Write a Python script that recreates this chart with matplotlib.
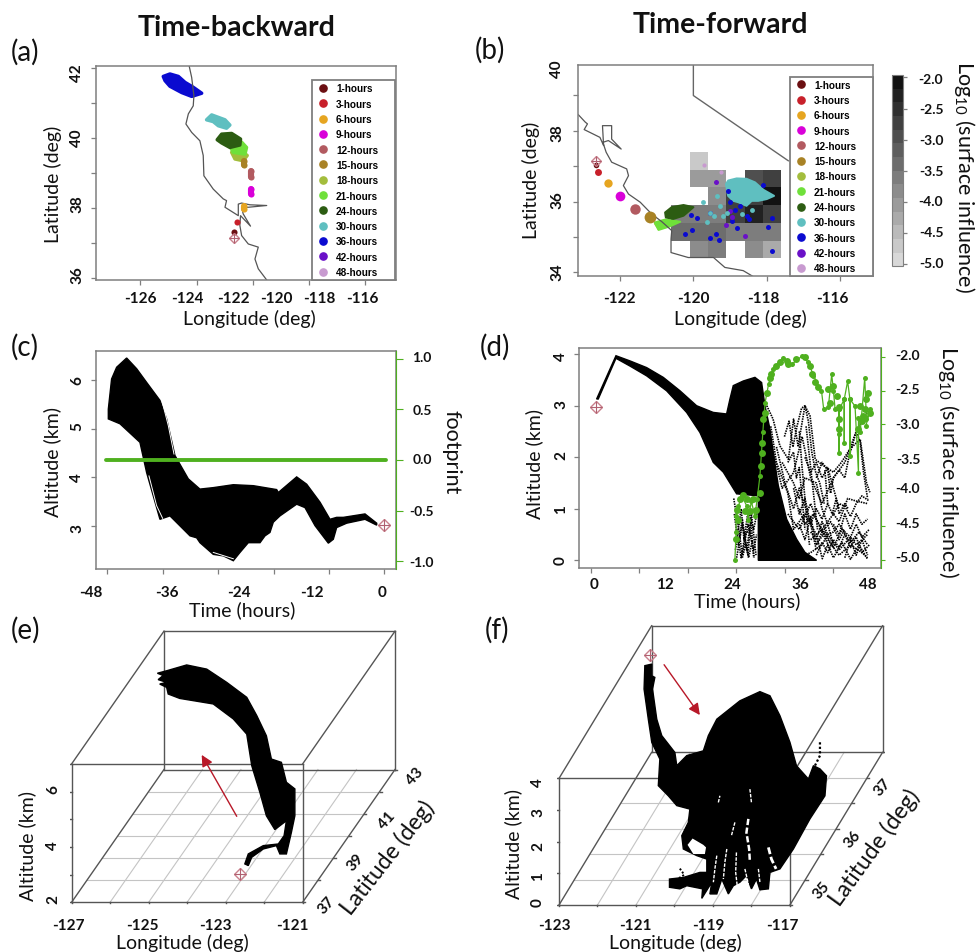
import matplotlib
matplotlib.use("Agg")
import matplotlib.pyplot as plt
from matplotlib.lines import Line2D
from matplotlib.colors import LinearSegmentedColormap
import numpy as np

plt.rcParams['font.family'] = ['Lato', 'DejaVu Sans']
plt.rcParams['mathtext.default'] = 'regular'

W, H = 976, 953

hours = ["1-hours", "3-hours", "6-hours", "9-hours", "12-hours", "15-hours", "18-hours",
         "21-hours", "24-hours", "30-hours", "36-hours", "42-hours", "48-hours"]
hour_colors = ["#6b0f12", "#c8202a", "#e6a520", "#d900d9", "#b25a60", "#a88225", "#a3bd3c",
               "#6fe03a", "#2c5c12", "#5fbfc0", "#0a0ad0", "#6a10c8", "#c89ad0"]

# panel a
a_lons = [[-121.75], [-121.65], [-121.32, -121.32], [-120.98, -120.98], [-121.02, -121.02], [-121.33, -121.33],
          [-121.87, -121.5, -121.17, -121.35, -121.72],
          [-121.95, -121.42, -121.2, -121.27, -121.8],
          [-122.52, -122.32, -121.87, -121.47, -121.50, -121.95, -122.32],
          [-123.0, -122.77, -122.47, -122.17, -121.95, -122.1, -122.47, -122.70],
          [-124.95, -124.65, -124.27, -123.97, -123.6, -123.22, -123.67, -124.12, -124.65, -124.87], [], []]
a_lats = [[37.32], [37.61], [37.97, 38.07], [38.54, 38.4], [39.07, 38.88], [39.35, 39.24],
          [39.59, 39.67, 39.5, 39.35, 39.4],
          [39.78, 39.88, 39.73, 39.54, 39.59],
          [39.95, 40.11, 40.13, 39.97, 39.8, 39.73, 39.86],
          [40.52, 40.66, 40.59, 40.52, 40.37, 40.28, 40.35, 40.47],
          [41.76, 41.83, 41.76, 41.59, 41.45, 41.28, 41.19, 41.3, 41.48, 41.64], [], []]
a_coast_lon = [-123.78, -123.67, -123.57, -123.60, -123.82, -123.93, -123.67, -123.30, -123.15, -123.12, -122.70,
               -122.25, -122.10, -122.17, -121.57, -121.57, -121.42, -121.05, -120.29, -121.12, -121.42, -121.35,
               -121.02, -121.47, -121.50, -121.42, -121.12, -120.67, -120.82, -120.67, -120.29]
a_coast_lat = [42.05, 41.73, 41.21, 40.92, 40.69, 40.40, 40.16, 39.92, 39.50, 38.92, 38.54, 38.26, 38.21, 38.02,
               37.78, 38.11, 38.14, 38.09, 38.07, 38.02, 38.02, 37.83, 37.48, 37.78, 37.50, 37.21, 36.97, 36.88,
               36.54, 36.26, 35.94]
a_site = (-121.75, 37.15)

# panel b
b_lons = [[-122.65], [-122.59], [-122.32], [-121.99], [-121.58], [-121.17],
          [-121.05, -120.9, -120.7, -120.95],
          [-121.05, -120.77, -120.36, -120.64, -120.95],
          [-120.77, -120.59, -120.27, -120.0, -120.27, -120.55, -120.75],
          [-119.11, -119.05, -118.82, -118.55, -118.32, -118.09, -117.8, -118.0, -118.23, -118.41, -118.55, -118.77,
           -118.91, -119.05],
          [-119.05, -119.0, -119.55, -120.07, -119.91, -120.05, -120.23, -119.55, -119.39, -119.29, -118.94, -118.82,
           -118.86, -118.55, -118.47, -117.86, -117.95, -117.85, -118.09, -118.73],
          [-119.39, -119.11, -118.59, -119.0, -118.95], [-119.71, -119.25]]
b_lats = [[37.04], [36.84], [36.51], [36.16], [35.80], [35.56],
          [35.38, 35.4, 35.3, 35.22],
          [35.41, 35.49, 35.43, 35.30, 35.2],
          [35.69, 35.84, 35.90, 35.84, 35.6, 35.51, 35.55],
          [36.49, 36.59, 36.65, 36.64, 36.54, 36.33, 36.16, 36.07, 36.02, 36.02, 35.88, 35.98, 36.02, 36.16],
          [36.30, 35.98, 35.67, 35.62, 35.54, 35.2, 35.08, 34.98, 35.09, 34.92, 35.46, 35.26, 35.77, 35.6, 35.52,
           35.54, 35.27, 34.59, 36.47, 35.88],
          [36.56, 35.34, 35.02, 35.74, 35.55], [37.04, 36.84]]
b_30h_lon = [-119.73, -119.36, -119.55, -119.27, -119.09, -119.64, -119.45, -119.18, -118.68, -118.41]
b_30h_lat = [36.0, 36.15, 35.69, 35.88, 35.69, 35.41, 35.6, 35.6, 35.65, 35.77]
b_sizes = [4, 5, 6, 7, 7.5, 8.5, 0, 0, 0, 0, 3.6, 3.6, 3]
b_coast_lon = [-123.14, -122.95, -122.89, -122.98, -122.55, -122.45, -122.48, -122.23, -122.23, -121.97, -122.32,
               -122.47, -122.38, -122.23, -121.82, -121.77, -121.91, -121.77, -121.45, -121.14, -120.86, -120.59,
               -120.61, -120.61, -120.14, -119.45, -119.14, -118.64, -118.38]
b_coast_lat = [38.45, 38.24, 38.19, 38.03, 37.81, 37.58, 38.14, 38.14, 37.76, 37.48, 37.72, 37.67, 37.39, 37.11,
               36.92, 36.73, 36.45, 36.21, 35.98, 35.65, 35.43, 35.18, 34.94, 34.56, 34.42, 34.42, 34.14, 34.05, 33.89]
nevada_lon = [-120.0, -120.0, -117.41]
nevada_lat = [39.86, 38.99, 37.15]
b_site = (-122.66, 37.14)
cell_lon = [-120.6, -120.1, -119.6, -119.1, -118.6, -118.1, -117.6]
cell_lat = [34.4, 34.9, 35.4, 35.9, 36.4, 36.9, 37.4]
cell_vals = [[np.nan, -3.77, -3.65, np.nan, -3.77, -4.3],
             [-3.4, -3.4, -3.4, -3.5, -3.6, -3.6],
             [-3.7, -3.65, -3.65, -2.8, -2.2, -2.8],
             [np.nan, np.nan, -3.77, -2.8, -2.8, -2.1],
             [np.nan, -4.0, -4.0, np.nan, -3.0, -2.75],
             [np.nan, -4.75, np.nan, np.nan, np.nan, np.nan]]

# panel c
c_top_t = [-45.05, -44.51, -43.68, -42.03, -40.38, -38.74, -36.54, -35.44, -34.07, -32.97, -31.87, -29.95, -27.75,
           -24.45, -21.15, -17.31, -17.03, -14.01, -12.36, -10.16, -8.52, -7.42, -6.32, -2.75, -0.82]
c_top_alt = [5.40, 6.02, 6.26, 6.45, 6.23, 5.95, 5.58, 5.20, 4.45, 4.21, 3.97, 3.76, 3.79, 3.85, 3.83, 3.75, 3.69,
             4.01, 3.86, 3.49, 3.14, 3.18, 3.18, 3.25, 3.06]
c_low_t = [-0.82, -2.75, -5.77, -7.42, -7.97, -8.79, -10.99, -12.64, -14.01, -16.76, -17.86, -18.41, -19.23, -20.05,
           -21.98, -23.35, -24.45, -26.1, -27.75, -29.95, -30.49, -31.59, -34.89, -36.54, -38.74, -39.84, -43.13,
           -45.05]
c_low_alt = [3.02, 3.14, 3.06, 2.97, 2.73, 2.65, 3.01, 3.38, 3.45, 3.21, 3.08, 2.87, 2.80, 2.66, 2.66, 2.46, 2.29,
             2.39, 2.42, 2.66, 2.76, 2.80, 3.21, 3.14, 4.10, 4.72, 5.10, 5.20]
c_gaps_t = [[-38.35, -37.09, -36.1], [-36.15, -35.16, -34.23], [-27.75, -24.45]]
c_gaps_alt = [[4.03, 3.42, 3.16], [5.54, 5.06, 4.48], [2.46, 2.33]]
c_foot_t = [-45.4, 0.7]
c_foot = [0.0, 0.0]
c_site = (0.38, 3.03)

# panel d
d_top_t = [0.41, 3.81, 6.26, 9.19, 12.12, 15.05, 17.97, 20.9, 23.24, 23.83, 24.41, 26.17, 28.22, 29.39, 29.98, 30.85,
           31.44, 32.32, 33.78, 35.54, 37.0, 39.05]
d_top_alt = [3.13, 3.97, 3.87, 3.74, 3.55, 3.29, 3.0, 2.87, 2.84, 3.13, 3.39, 3.48, 3.55, 3.45, 3.0, 2.55, 2.09,
             1.45, 0.8, 0.41, 0.155, 0.0]
d_low_t = [28.81, 28.81, 25.0, 22.66, 20.9, 18.56, 16.22, 12.7, 9.19, 6.26, 3.81, 0.7]
d_low_alt = [0.0, 1.25, 1.29, 1.71, 1.9, 2.48, 2.87, 3.29, 3.58, 3.77, 3.92, 3.13]
d_traces_t = [[30.3, 31.4, 32.6, 34.1, 35.0, 35.8, 37.0, 37.9, 38.8, 40.2, 42.0, 43.4, 44.9, 46.7, 47.8, 48.4],
              [31, 33, 35, 36.5, 38, 40, 42, 44, 46, 48],
              [38, 40, 42, 43, 44.5, 46, 48],
              [36, 38, 40, 41, 43, 45, 46, 48],
              [34, 36, 38, 39, 41, 43, 45, 47, 48],
              [33, 35, 36, 37, 39, 40, 41, 42],
              [32, 33.5, 35, 36, 38, 39],
              [37, 38, 39, 40, 41, 42, 43],
              [31, 32, 34, 35, 37, 39, 40],
              [42, 43, 44, 45, 46, 47, 48],
              [44, 45, 46, 47, 48],
              [24.5, 25.5, 26, 27, 28, 28.5],
              [25, 26, 27, 27.5, 28],
              [36, 37, 38.5, 40, 41.5, 43, 44],
              [39, 40.5, 42, 43.5, 45, 46.5, 48],
              [33.4, 34.2, 34.9, 35.6, 36.4, 37.0, 37.6, 38.2, 38.9, 39.6, 40.4],
              [37.2, 37.9, 38.6, 39.2],
              [36, 36.5, 37, 37.4, 37.8],
              [34, 35, 35.5, 36, 36.5, 37],
              [39, 40, 41, 41.5, 42, 43, 44, 44.7, 45.5, 46, 46.7, 47.3, 48],
              [40.5, 41, 41.8, 42.5, 43, 44, 44.6],
              [42, 43, 44, 45, 46, 47, 48.3],
              [38, 39, 40, 41, 42, 43, 44, 45, 46, 47, 48.3],
              [39, 40, 41, 42, 43, 44, 45, 46, 47, 48.3],
              [40, 41, 42, 43.5, 45, 46.5, 48],
              [35, 36, 37, 38, 39, 40, 41],
              [36, 37, 38, 39, 40, 41.5],
              [24.6, 25.3, 26, 26.8, 27.6, 28.4],
              [25, 25.8, 26.5, 27.3, 28.1],
              [24.8, 25.8, 26.3, 27, 28, 28.7],
              [26, 26.6, 27.1, 27.8]]
d_traces_alt = [[3.0, 2.74, 2.22, 1.96, 2.74, 2.22, 3.0, 2.80, 1.96, 1.84, 1.71, 1.90, 2.16, 2.35, 1.51, 1.32],
                [2.3, 1.4, 1.7, 2.4, 1.6, 1.1, 1.6, 1.9, 2.5, 2.9],
                [0.4, 0.6, 0.9, 0.75, 1.2, 1.15, 1.1],
                [0.05, 0.15, 0.3, 0.5, 0.2, 0.45, 0.3, 0.5],
                [0.9, 0.6, 1.1, 0.8, 0.4, 0.1, 0.3, 0.15, 0.05],
                [1.9, 1.5, 1.2, 1.6, 1.5, 1.0, 0.7, 0.3],
                [2.2, 1.5, 1.0, 1.4, 0.7, 0.2],
                [2.0, 1.7, 1.9, 1.6, 1.8, 1.4, 1.0],
                [2.6, 1.9, 1.3, 0.6, 0.9, 0.5, 0.05],
                [0.7, 0.5, 0.9, 0.6, 0.9, 0.7, 0.8],
                [0.05, 0.4, 0.1, 0.4, 0.1],
                [1.2, 0.5, 0.1, 0.7, 0.2, 0.5],
                [0.05, 0.7, 0.1, 0.8, 0.05],
                [1.0, 0.7, 0.9, 0.55, 0.75, 0.4, 0.6],
                [0.3, 0.55, 0.25, 0.6, 0.35, 0.55, 0.3],
                [2.4, 2.7, 2.2, 2.6, 2.95, 3.0, 2.7, 2.1, 1.7, 1.5, 1.1],
                [2.6, 1.9, 1.2, 0.6],
                [2.5, 1.8, 1.2, 0.7, 0.3],
                [1.9, 2.1, 1.6, 1.8, 1.2, 0.6],
                [1.6, 1.9, 1.75, 1.3, 1.6, 1.75, 1.6, 2.0, 2.3, 2.5, 2.3, 1.7, 1.2],
                [1.75, 1.1, 0.9, 1.2, 0.9, 1.1, 1.0],
                [0.9, 1.1, 1.05, 0.85, 1.1, 1.25, 1.15],
                [0.55, 0.4, 0.75, 0.5, 0.55, 0.7, 0.55, 0.45, 0.7, 0.45, 0.6],
                [0.1, 0.35, 0.15, 0.4, 0.25, 0.5, 0.25, 0.45, 0.15, 0.3],
                [0.02, 0.3, 0.05, 0.35, 0.02, 0.3, 0.02],
                [1.4, 0.9, 1.2, 0.7, 1.0, 0.8, 1.1],
                [0.7, 0.4, 0.85, 0.3, 0.55, 0.2],
                [0.9, 0.3, 0.8, 0.2, 0.9, 0.1],
                [0.6, 0.05, 0.5, 0.6, 0.05],
                [0.2, 1.0, 0.4, 0.95, 0.6, 1.0],
                [0.05, 0.3, 0.05, 0.4]]
d_green_t = [24.7, 24.9, 24.9, 25.3, 25.9, 26.8, 27.0, 27.6, 28.2, 28.6, 29.1, 29.6, 30.0, 30.6, 31.4, 33.2, 34.7,
             36.4, 37.6, 38.5, 39.9, 40.3, 41.1, 41.7, 42.0, 42.3, 43.0, 42.9, 43.0, 43.0, 43.9, 43.9, 43.9, 44.5,
             44.9, 44.9, 44.9, 45.8, 46.4, 46.4, 46.7, 47.5, 47.8, 48.5, 47.7]
d_green_v = [-5.0, -4.6, -4.36, -4.21, -4.06, -4.21, -4.41, -4.14, -4.36, -4.11, -3.76, -3.12, -2.68, -2.41, -2.18,
             -2.02, -2.11, -1.995, -2.08, -2.28, -2.50, -2.78, -2.75, -2.26, -2.50, -2.78, -2.78, -3.15, -3.42, -2.78,
             -2.63, -3.27, -2.63, -2.36, -2.63, -3.47, -2.63, -2.73, -3.72, -2.9, -3.12, -2.31, -2.92, -2.78, -3.02]
d_blob_t = [25.0, 25.6, 26.2, 26.5, 27.3, 27.9, 28.4, 26.8, 25.3, 24.9, 29.1, 29.2, 29.4, 29.5, 29.7, 29.9, 30.3, 30.9,
            31.1, 32.0, 32.6, 33.8, 34.1, 35.5, 37.0, 37.9, 38.2, 38.8, 39.3, 41.1, 42.0, 42.6, 41.4, 42.9, 46.7, 47.2,
            47.8, 48.1, 48.4, 47.5, 47.1, 46.4, 42.9, 43.0]
d_blob_v = [-4.26, -4.11, -4.04, -4.28, -4.28, -4.11, -4.26, -4.11, -4.41, -4.70, -4.01, -3.62, -3.42, -3.27, -2.92,
            -2.83, -2.53, -2.31, -2.26, -2.13, -2.08, -2.06, -2.11, -2.03, -2.01, -2.13, -2.26, -2.38, -2.45, -2.48,
            -2.43, -2.58, -2.68, -2.75, -2.73, -2.87, -2.63, -2.53, -2.83, -2.78, -2.95, -3.07, -2.92, -3.07]
d_site = (0.23, 2.97)

# panel e, outline read on the front plane of the box (lat 37)
e_lon = [-124.77, -124.53, -124.01, -123.49, -122.97, -122.45, -122.19, -121.94, -121.81, -121.55, -121.42, -121.20,
         -121.20, -121.29, -121.42, -121.59, -121.68, -122.02, -122.32, -122.41, -122.50, -122.41, -122.02, -121.63,
         -121.48, -121.42, -121.72, -121.94, -122.11, -122.32, -122.45, -122.80, -123.32, -123.84, -124.19, -124.49,
         -124.53, -124.71, -124.53, -124.75, -124.62]
e_alt = [10.28, 10.37, 10.58, 10.43, 9.95, 9.41, 8.75, 8.02, 7.18, 7.06, 6.34, 6.10, 5.13, 4.53, 3.75, 3.75, 4.05,
         3.93, 3.63, 3.33, 3.39, 3.75, 4.05, 4.11, 4.41, 4.95, 4.63, 5.13, 5.98, 6.94, 8.08, 8.63, 9.17, 9.29, 9.37,
         9.53, 9.77, 9.89, 9.95, 10.05, 10.2]
e_site = (-122.63, 3.02)
e_arrow_lon = [-122.71, -123.62]
e_arrow_alt = [5.11, 7.33]

# panel f, same idea, front plane
f_lon = [-120.77, -120.59, -120.59, -120.51, -120.57, -120.46, -120.33, -119.99, -119.94, -119.68, -119.25, -119.12,
         -118.90, -118.30, -117.78, -117.52, -117.26, -117.00, -116.83, -116.52, -116.39, -116.22, -116.05, -116.09,
         -116.48, -116.91, -117.26, -117.52, -117.56, -117.78, -117.87, -118.0, -118.13, -118.3, -118.47, -118.6,
         -118.77, -118.9, -119.08, -119.03, -119.29, -119.27, -119.68, -119.86, -120.13, -120.13, -119.77, -119.34,
         -119.16, -119.16, -119.42, -119.77, -119.81, -119.64, -119.60, -119.94, -120.16, -120.42, -120.38, -120.59,
         -120.68, -120.79]
f_alt = [7.56, 7.61, 7.24, 7.19, 6.82, 5.87, 5.35, 4.82, 4.40, 4.72, 4.87, 5.35, 5.87, 6.45, 6.74, 6.61, 5.98, 5.14,
         4.40, 3.98, 4.40, 4.30, 4.08, 3.45, 2.72, 1.77, 1.14, 1.03, 0.51, 0.48, 0.82, 0.51, 0.93, 0.72, 0.61, 0.35,
         0.82, 0.35, 0.35, 0.72, 0.21, 0.51, 0.61, 0.51, 0.56, 0.82, 0.87, 1.03, 1.03, 1.45, 1.56, 1.77, 2.19, 2.61,
         3.03, 3.14, 3.45, 3.77, 4.61, 5.14, 5.87, 6.82]
f_gaps_lon = [[-118.08, -118.13, -118.06, -118.04], [-117.56, -117.48, -117.36], [-118.43, -118.52],
              [-118.86, -118.82], [-118.64, -118.69, -118.73], [-118.39, -118.41, -118.37], [-118.90, -118.95, -118.99],
              [-117.82, -117.78], [-118.04, -118.0], [-118.17, -118.08]]
f_gaps_alt = [[2.72, 2.29, 1.77, 1.35], [1.82, 1.45, 1.14], [2.61, 2.19], [3.24, 3.45], [1.77, 1.35, 0.82],
              [1.66, 1.03, 0.61], [1.56, 1.14, 0.72], [1.14, 0.72], [3.66, 3.24], [1.14, 0.66]]
f_gap_widths = [1.8, 2.0, 1.0, 1.0, 1.0, 1.0, 1.0, 1.0, 1.0, 1.0]
f_hole_lon = [-119.53, -119.25, -119.18, -119.21, -119.51, -119.66]
f_hole_alt = [2.1, 1.9, 1.82, 1.61, 1.61, 1.9]
f_tail_lon = [-116.22, -116.22, -116.35, -116.39]
f_tail_alt = [5.14, 4.72, 4.40, 4.08]
f_bits_lon = [-119.86, -119.8, -119.75, -119.95, -120.02]
f_bits_alt = [1.15, 1.05, 0.95, 0.8, 0.7]
f_site = (-120.64, 7.89)
f_arrow_lon = [-120.27, -119.34]
f_arrow_alt = [7.59, 6.0]

GREY = "#7f7f7f"
GREEN = "#4fb01f"
PINK = "#c9808c"

fig = plt.figure(figsize=(W / 100, H / 100), dpi=100, facecolor="white")


def px_axes(x0, y0, x1, y1):
    return fig.add_axes([x0 / W, 1 - y1 / H, (x1 - x0) / W, (y1 - y0) / H])


def txt(x, y, s, size=11, weight="normal", rot=0, **kw):
    fig.text(x / W, 1 - y / H, s, ha="center", va="center", fontsize=size, fontweight=weight,
             rotation=rot, rotation_mode="anchor", color="#111111", **kw)


def style(ax, xt, yt):
    for s in ax.spines.values():
        s.set_color(GREY)
        s.set_linewidth(1.1)
    ax.set_xticks(xt)
    ax.set_yticks(yt)
    ax.tick_params(color=GREY, length=3.5, width=0.9, labelbottom=False, labelleft=False)


def site(ax, p, ms=6.5):
    ax.plot([p[0]], [p[1]], marker="D", ms=ms, mfc="none", mec=PINK, mew=1.0, zorder=8, clip_on=False)
    ax.plot([p[0]], [p[1]], marker="+", ms=ms * 1.3, mec="#b06070", mew=0.8, zorder=8, clip_on=False)


def hour_legend(ax, box):
    hs = [Line2D([], [], ls="none", marker="o", ms=5.2, color=c) for c in hour_colors]
    leg = ax.legend(hs, hours, loc="lower left", bbox_to_anchor=box, mode="expand", borderaxespad=0,
                    labelspacing=0.53, handlelength=1.6, handletextpad=0.5, borderpad=0.3,
                    fancybox=False, framealpha=1, edgecolor=GREY,
                    prop={"family": "Liberation Sans", "weight": "bold", "size": 7.2})
    leg.get_frame().set_linewidth(1.3)
    leg.set_zorder(10)


# (a)
ax = px_axes(96, 67.3, 395.7, 281)
ax.set_xlim(-127.98, -114.48)
ax.set_ylim(35.94, 42.05)
style(ax, [-125.98, -123.45, -120.92, -118.39, -115.85], [36, 37, 38, 39, 40, 41, 42])
ax.plot(a_coast_lon, a_coast_lat, color="#555555", lw=0.9)
for lo, la, c in zip(a_lons, a_lats, hour_colors):
    if len(lo) >= 3:
        ax.fill(lo, la, fc=c, ec=c, lw=2.5, joinstyle="round")
    elif lo:
        ax.plot(lo, la, ls="-", lw=4.4, color=c, marker="o", ms=4.4, mew=0, solid_capstyle="round")
site(ax, a_site, 5.5)
hour_legend(ax, ((312 - 96) / 299.7, 0, (395 - 312) / 299.7, 1))

# (b)
ax = px_axes(578.3, 65.7, 873.3, 277.3)
ax.set_xlim(-123.14, -115.09)
ax.set_ylim(33.89, 39.86)
style(ax, [-122, -120, -118, -116], [34, 35, 36, 37, 38, 39])
grey_map = LinearSegmentedColormap.from_list("g", ["#d8d8d8", "#121212"], N=14)
mesh = ax.pcolormesh(cell_lon, cell_lat, np.array(cell_vals), cmap=grey_map, vmin=-5.03, vmax=-1.96)
ax.plot(b_coast_lon, b_coast_lat, color="#555555", lw=0.9)
ax.plot(nevada_lon, nevada_lat, color="#666666", lw=1.0)
for lo, la, c, ms in zip(b_lons, b_lats, hour_colors, b_sizes):
    if ms == 0:
        ax.fill(lo, la, fc=c, ec=c, lw=1.5, joinstyle="round")
    else:
        ax.plot(lo, la, ls="none", color=c, marker="o", ms=ms, mew=0)
ax.plot(b_30h_lon, b_30h_lat, ls="none", color=hour_colors[9], marker="o", ms=3.5, mew=0)
site(ax, b_site, 5.5)
hour_legend(ax, ((790 - 578.3) / 295, 0, (873 - 790) / 295, 1))

cax = px_axes(891.7, 76, 902.7, 267.3)
cb = fig.colorbar(mesh, cax=cax)
cb.set_ticks([-2, -2.5, -3, -3.5, -4, -4.5, -5])
cb.ax.tick_params(color=GREY, length=3, width=0.9, labelright=False)
cb.outline.set_edgecolor(GREY)

# (c)
ax = px_axes(96.3, 351.7, 395.7, 570)
ax.set_xlim(-47.03, 2.31)
ax.set_ylim(2.12, 6.60)
style(ax, [-45.2, -36.1, -26.9, -17.8, -8.7, 0.44], [3, 4, 5, 6])
ax.fill(c_top_t + c_low_t, c_top_alt + c_low_alt, fc="black", ec="black", lw=1.0)
for tt, aa in zip(c_gaps_t, c_gaps_alt):
    ax.plot(tt, aa, color="white", lw=0.7)
site(ax, c_site)
ax2 = ax.twinx()
ax2.set_ylim(-1.076, 1.08)
ax2.set_yticks([-1, -0.5, 0, 0.5, 1])
ax2.tick_params(color=GREEN, length=5, width=0.8, labelright=False)
ax2.spines["right"].set_color(GREEN)
for k in ["left", "top", "bottom"]:
    ax2.spines[k].set_visible(False)
ax2.plot(c_foot_t, c_foot, color=GREEN, lw=2.8, solid_capstyle="round")

# (d)
ax = px_axes(579.3, 349, 881.3, 569.3)
ax.set_xlim(-2.63, 50.41)
ax.set_ylim(-0.155, 4.12)
style(ax, [-0.64, 7.90, 16.39, 24.94, 33.43, 41.98], [0, 1, 2, 3, 4])
ax.fill(d_top_t + d_low_t, d_top_alt + d_low_alt, fc="black", ec="black", lw=1.0)
for tt, aa in zip(d_traces_t, d_traces_alt):
    ax.plot(tt, aa, color="black", lw=1.2, ls=(0, (0.9, 0.6)))
site(ax, d_site)
ax2 = ax.twinx()
ax2.set_ylim(-5.13, -1.87)
ax2.set_yticks([-5, -4.5, -4, -3.5, -3, -2.5, -2])
ax2.tick_params(color=GREEN, length=3, width=0.8, labelright=False)
ax2.spines["right"].set_color(GREEN)
for k in ["left", "top", "bottom"]:
    ax2.spines[k].set_visible(False)
ax2.plot(d_green_t, d_green_v, color=GREEN, lw=0.9, marker="o", ms=3.6, mew=0)
ax2.plot(d_blob_t, d_blob_v, ls="none", color=GREEN, marker="o", ms=5, mew=0)


def proj(lon, lat, alt, lat0, kx, ky):
    return lon + (lat - lat0) * kx, alt + (lat - lat0) * ky


def box3d(ax, lons, lats, alts, kx, ky):
    lat0, lat1 = lats[0], lats[-1]
    lo0, lo1 = lons[0], lons[-1]
    al0, al1 = alts[0], alts[-1]

    def seg(a, b, **kw):
        pa = proj(*a, lat0, kx, ky)
        pb = proj(*b, lat0, kx, ky)
        ax.plot([pa[0], pb[0]], [pa[1], pb[1]], **kw)

    for lo in lons[1:-1]:
        seg((lo, lat0, al0), (lo, lat1, al0), color="#c4c4c4", lw=0.8, zorder=1)
    for la in lats[1:-1]:
        seg((lo0, la, al0), (lo1, la, al0), color="#c4c4c4", lw=0.8, zorder=1)
    dark = dict(color="#555555", lw=1.0, zorder=2)
    for la in (lat0, lat1):
        seg((lo0, la, al0), (lo1, la, al0), **dark)
        seg((lo0, la, al1), (lo1, la, al1), **dark)
        seg((lo0, la, al0), (lo0, la, al1), **dark)
        seg((lo1, la, al0), (lo1, la, al1), **dark)
    for lo in (lo0, lo1):
        seg((lo, lat0, al0), (lo, lat1, al0), **dark)
        seg((lo, lat0, al1), (lo, lat1, al1), **dark)
    for al in alts:
        seg((lo0, lat0, al), (lo0 - 0.06, lat0, al), **dark)
    for lo in lons:
        seg((lo, lat0, al0), (lo, lat0, al0 - 0.03), **dark)
    for la in lats:
        seg((lo1, la, al0), (lo1 + 0.06, la, al0), **dark)


def arrow(ax, lons, alts):
    ax.annotate("", xy=(lons[1], alts[1]), xytext=(lons[0], alts[0]),
                arrowprops=dict(arrowstyle="-|>", color="#b81828", lw=1.0, mutation_scale=17, shrinkA=0, shrinkB=0),
                zorder=7)


# (e)
ax = px_axes(70, 625, 405, 910)
ax.set_xlim(-127.04, -118.34)
ax.set_ylim(1.76, 12.06)
ax.axis("off")
box3d(ax, [-127, -126, -125, -124, -123, -122, -121], [37, 38, 39, 40, 41, 42, 43], [2, 3, 4, 5, 6, 7], 0.4, 0.8)
ax.fill(e_lon, e_alt, fc="black", ec="black", lw=1.0, zorder=5)
site(ax, e_site)
arrow(ax, e_arrow_lon, e_arrow_alt)

# (f)
ax = px_axes(556.7, 623.3, 885, 910)
ax.set_xlim(-123.06, -114.53)
ax.set_ylim(-0.126, 8.93)
ax.axis("off")
box3d(ax, [-123, -122, -121, -120, -119, -118, -117], [34.5, 35, 35.5, 36, 36.5, 37, 37.5], [0, 1, 2, 3, 4],
      0.802, 1.607)
ax.fill(f_lon, f_alt, fc="black", ec="black", lw=1.0, zorder=5)
ax.fill(f_hole_lon, f_hole_alt, fc="white", ec="none", zorder=6)
for lo, al, w in zip(f_gaps_lon, f_gaps_alt, f_gap_widths):
    ax.plot(lo, al, color="white", lw=w, ls=(0, (2.5, 1)), zorder=6)
ax.plot(f_tail_lon, f_tail_alt, color="black", lw=1.6, ls=(0, (1, 1)), zorder=5)
ax.plot(f_bits_lon, f_bits_alt, color="black", lw=1.4, ls=(0, (1, 1)), zorder=5)
site(ax, f_site)
arrow(ax, f_arrow_lon, f_arrow_alt)

# titles and panel letters
txt(237, 28, "Time-backward", 20.5, "bold")
txt(720, 25, "Time-forward", 20.5, "bold")
for x, y, s in [(25, 52, "(a)"), (490, 50, "(b)"), (25, 347, "(c)"), (495, 347, "(d)"), (25, 630, "(e)"),
                (497, 630, "(f)")]:
    txt(x, y, s, 20)

TICK = dict(size=11, weight="bold")
LAB = 14
BIG = 15.5
for x, s in zip([140, 187, 233, 276, 319, 362], ["-126", "-124", "-122", "-120", "-118", "-116"]):
    txt(x, 299, s, **TICK)
for y, s in zip([73, 138, 204, 275], ["42", "40", "38", "36"]):
    txt(77, y, s, rot=90, **TICK)
txt(249, 319, "Longitude (deg)", LAB)
txt(53, 184, "Latitude (deg)", LAB, rot=90)

for x, s in zip([619, 693, 763, 832], ["-122", "-120", "-118", "-116"]):
    txt(x, 299, s, **TICK)
for y, s in zip([69, 133, 200, 272], ["40", "38", "36", "34"]):
    txt(557, y, s, rot=90, **TICK)
txt(740, 319, "Longitude (deg)", LAB)
txt(531, 180, "Latitude (deg)", LAB, rot=90)
for y, s in zip([80, 110, 141, 172, 202, 233, 264], ["-2.0", "-2.5", "-3.0", "-3.5", "-4.0", "-4.5", "-5.0"]):
    txt(931, y, s, 10, "bold")
txt(965, 177, "Log$_{10}$ (surface influence)", BIG, rot=270)

for x, s in zip([91, 167, 239, 312, 382], ["-48", "-36", "-24", "-12", "0"]):
    txt(x, 593, s, **TICK)
for y, s in zip([381, 427, 478, 529], ["6", "5", "4", "3"]):
    txt(77, y, s, rot=90, **TICK)
for y, s in zip([358, 411, 460, 512, 563], ["1.0", "0.5", "0.0", "-0.5", "-1.0"]):
    txt(422, y, s, 10, "bold")
txt(242, 610, "Time (hours)", LAB)
txt(52, 462, "Altitude (km)", LAB, rot=90)
txt(452, 452, "footprint", BIG, rot=270)

for x, s in zip([594, 665, 732, 800, 868], ["0", "12", "24", "36", "48"]):
    txt(x, 585, s, **TICK)
for y, s in zip([357, 405, 456, 510, 561], ["4", "3", "2", "1", "0"]):
    txt(561, y, s, rot=90, **TICK)
for y, s in zip([356, 390, 425, 460, 489, 524, 558], ["-2.0", "-2.5", "-3.0", "-3.5", "-4.0", "-4.5", "-5.0"]):
    txt(908, y, s, 10, "bold")
txt(747, 601, "Time (hours)", LAB)
txt(534, 464, "Altitude (km)", LAB, rot=90)
txt(948, 462, "Log$_{10}$ (surface influence)", BIG, rot=270)

for x, s in zip([68, 142, 215, 292], ["-127", "-125", "-123", "-121"]):
    txt(x, 926, s, **TICK)
for y, s in zip([790, 846, 900], ["6", "4", "2"]):
    txt(53, y, s, rot=90, **TICK)
for x, y, s in zip([326, 355, 387, 415], [906, 863, 821, 777], ["37", "39", "41", "43"]):
    txt(x, y, s, rot=48, **TICK)
txt(182, 943, "Longitude (deg)", LAB)
txt(27, 846, "Altitude (km)", LAB, rot=90)
txt(388, 858, "Latitude (deg)", 16.5, rot=52)

for x, s in zip([554, 635, 708, 782], ["-123", "-121", "-119", "-117"]):
    txt(x, 926, s, **TICK)
for y, s in zip([783, 813, 847, 877, 903], ["4", "3", "2", "1", "0"]):
    txt(538, y, s, rot=90, **TICK)
for x, y, s in zip([821, 852, 882], [891, 840, 788], ["35", "36", "37"]):
    txt(x, y, s, rot=48, **TICK)
txt(675, 943, "Longitude (deg)", LAB)
txt(513, 844, "Altitude (km)", LAB, rot=90)
txt(875, 848, "Latitude (deg)", 16.5, rot=54)

fig.savefig("out.png", dpi=100)
